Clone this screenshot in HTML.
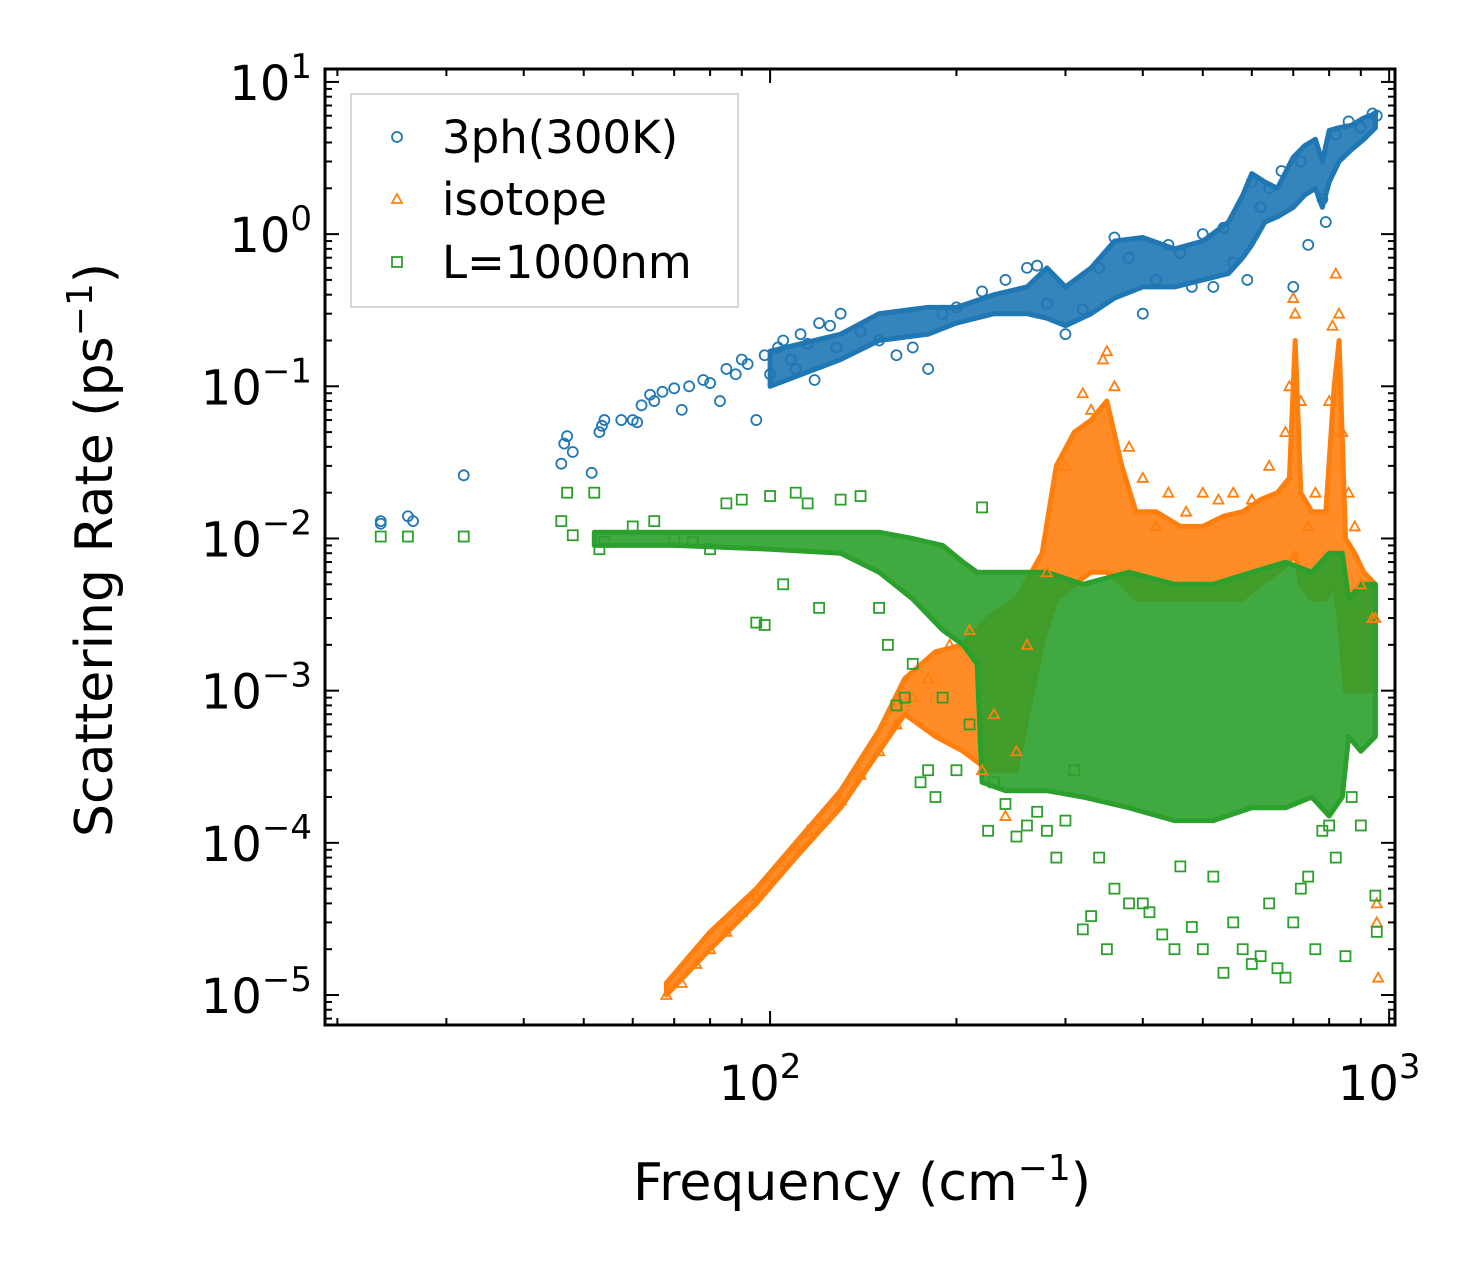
<!DOCTYPE html>
<html><head><meta charset="utf-8"><style>
body{margin:0;background:#fff;}
svg{display:block;font-family:"DejaVu Sans","Liberation Sans",sans-serif;}
</style></head><body>
<svg id="chart" width="1464" height="1275">
<g id="bands"></g>
<g id="pts"></g>
<g id="axes"></g>
<text x="862" y="1200" font-size="52" text-anchor="middle">Frequency (cm<tspan dy="-20" font-size="36">−1</tspan><tspan dy="20">)</tspan></text>
<text transform="translate(112,550) rotate(-90)" font-size="52" text-anchor="middle">Scattering Rate (ps<tspan dy="-20" font-size="36">−1</tspan><tspan dy="20">)</tspan></text>
<g>
<rect x="351" y="94" width="387" height="213" fill="#fff" fill-opacity="0.8" stroke="#ccc" stroke-width="1.5"/>
<circle cx="397" cy="137" r="5" fill="none" stroke="#1f77b4" stroke-width="1.8"/>
<text x="442" y="153" font-size="45">3ph(300K)</text>
<path d="M397,194 L402,203 L392,203 Z" fill="none" stroke="#ff7f0e" stroke-width="1.8"/>
<text x="442" y="215" font-size="45">isotope</text>
<rect x="392" y="257" width="10" height="10" fill="none" stroke="#2ca02c" stroke-width="1.8"/>
<text x="442" y="278" font-size="45">L=1000nm</text>
</g>
</svg>
<script>
// ---- data ----
const bandBlueF  =[100,130,150,180,200,230,260,280,300,330,360,400,450,500,550,580,600,630,660,700,730,760,780,800,830,870,910,950];
const bandBlueLo =[0.10,0.15,0.2,0.22,0.26,0.3,0.3,0.28,0.25,0.3,0.38,0.45,0.45,0.5,0.55,0.7,0.85,1.2,1.3,1.5,1.8,2.0,1.5,2.2,3.0,3.6,4.2,5.0];
const bandBlueHi =[0.17,0.22,0.3,0.33,0.33,0.4,0.45,0.6,0.45,0.6,0.9,0.95,0.8,0.9,1.2,1.8,2.5,2.2,2.0,3.2,3.8,4.2,3.0,4.8,5.0,5.2,5.8,6.2];
const bandOrF  =[68,80,95,110,130,150,165,185,205,225,250,275,290,310,330,350,370,390,420,460,500,540,580,620,660,690,705,720,750,790,815,830,850,880,910,950];
const bandOrLo =[1e-5,2e-5,4e-5,8e-5,1.7e-4,4e-4,7e-4,5e-4,4e-4,3e-4,3e-4,2e-3,4e-3,5e-3,6e-3,6e-3,5e-3,4e-3,4e-3,4e-3,4e-3,4e-3,4e-3,5e-3,6e-3,7e-3,8e-3,5e-3,4e-3,4e-3,5e-3,3e-3,1e-3,1e-3,1e-3,1e-3];
const bandOrHi =[1.2e-5,2.6e-5,5e-5,1e-4,2.2e-4,5.5e-4,1.2e-3,1.8e-3,2e-3,3e-3,4e-3,8e-3,3e-2,5e-2,6e-2,8e-2,3e-2,1.5e-2,1.5e-2,1.2e-2,1.2e-2,1.4e-2,1.5e-2,1.8e-2,2e-2,2.5e-2,2e-1,2e-2,1.5e-2,1.5e-2,1e-1,2e-1,1e-2,8e-3,6e-3,5e-3];
const bandGrF  =[52,70,100,130,150,170,190,205,216,220,240,280,320,380,450,520,600,680,750,800,840,860,900,950];
const bandGrLo =[9e-3,9e-3,8.5e-3,8e-3,6e-3,4e-3,2.5e-3,2e-3,1.5e-3,2.5e-4,2.2e-4,2.2e-4,2e-4,1.7e-4,1.4e-4,1.4e-4,1.7e-4,1.7e-4,2e-4,1.5e-4,2e-4,5e-4,4e-4,5e-4];
const bandGrHi =[1.1e-2,1.1e-2,1.1e-2,1.1e-2,1.1e-2,1e-2,9e-3,7e-3,6e-3,6e-3,6e-3,6e-3,5e-3,6e-3,5e-3,5e-3,6e-3,7e-3,6e-3,8e-3,8e-3,4e-3,5e-3,5e-3];
const blueF=[23.5,23.5,26,26.5,32,46,46.5,47,48,51.5,53,53.5,54,57.5,60,61,62,64,65,67,70,72,74,78,80,83,85,88,90,92,95,98,100,103,105,108,110,112,115,118,120,125,128,130,140,150,160,170,180,190,200,220,240,260,270,280,300,320,340,360,380,400,420,440,460,480,500,520,540,560,590,600,620,640,670,700,720,740,780,790,820,860,900,940,955];
const blueV=[0.013,0.0125,0.014,0.013,0.026,0.031,0.042,0.047,0.037,0.027,0.05,0.055,0.06,0.06,0.06,0.058,0.075,0.088,0.08,0.092,0.097,0.07,0.1,0.11,0.105,0.08,0.13,0.12,0.15,0.14,0.06,0.16,0.12,0.18,0.2,0.15,0.13,0.22,0.19,0.11,0.26,0.25,0.18,0.3,0.23,0.2,0.16,0.18,0.13,0.3,0.33,0.42,0.5,0.6,0.62,0.35,0.22,0.32,0.6,0.95,0.7,0.3,0.5,0.85,0.75,0.45,1.0,0.45,1.1,0.65,0.5,2.2,1.5,2.0,2.6,0.45,3.0,0.85,1.7,1.2,4.5,5.5,5.0,6.2,6.0];
const orF=[68,72,76,80,85,90,95,100,105,110,115,120,130,140,150,160,170,180,195,210,220,230,240,250,260,280,300,320,330,345,350,360,380,400,420,440,470,500,530,560,600,640,680,690,700,705,720,740,760,800,810,820,830,840,860,880,900,940,950,955,955,960];
const orV=[1e-5,1.2e-5,1.6e-5,2e-5,2.6e-5,3.5e-5,4.5e-5,6e-5,7.5e-5,9.5e-5,1.2e-4,1.4e-4,1.9e-4,2.8e-4,4e-4,6e-4,9e-4,1.2e-3,2e-3,2.5e-3,3e-4,7e-4,1.5e-4,4e-4,2e-3,6e-3,0.03,0.09,0.07,0.15,0.17,0.1,0.04,0.025,0.012,0.02,0.015,0.02,0.018,0.02,0.018,0.03,0.05,0.1,0.38,0.3,0.08,0.012,0.02,0.08,0.25,0.55,0.3,0.05,0.02,0.012,0.005,0.003,3e-3,4e-5,3e-5,1.3e-5];
const grF=[23.5,26,32,46,47,48,52,53,54,60,65,70,75,80,85,90,95,98,100,105,110,115,120,130,140,150,155,160,165,170,175,180,185,190,200,210,220,225,230,240,250,260,270,280,290,300,310,320,330,340,350,360,380,400,410,430,450,460,480,500,520,540,560,580,600,620,640,660,680,700,720,740,760,780,800,820,850,870,900,950,955];
const grV=[0.0103,0.0103,0.0103,0.013,0.02,0.0105,0.02,0.0085,0.0095,0.012,0.013,0.01,0.0095,0.0085,0.017,0.018,0.0028,0.0027,0.019,0.005,0.02,0.017,0.0035,0.018,0.019,0.0035,0.002,0.0008,0.0009,0.0015,0.00025,0.0003,0.0002,0.0009,0.0003,0.0006,0.016,0.00012,0.00025,0.00018,0.00011,0.00013,0.00016,0.00012,8e-5,0.00014,0.0003,2.7e-5,3.3e-5,8e-5,2e-5,5e-5,4e-5,4e-5,3.5e-5,2.5e-5,2e-5,7e-5,2.8e-5,2e-5,6e-5,1.4e-5,3e-5,2e-5,1.6e-5,1.8e-5,4e-5,1.5e-5,1.3e-5,3e-5,5e-5,6e-5,2e-5,1.2e-4,0.00013,8e-5,1.8e-5,0.0002,0.00013,4.5e-5,2.6e-5];
// ---- axes ----
const L=325,R=1395,T=69,B=1025;
const X0=Math.log10(19.1),X1=Math.log10(1022);
const Y0=-5.197,Y1=1.085;
const sx=v=>L+(Math.log10(v)-X0)/(X1-X0)*(R-L);
const sy=v=>B-(Math.log10(v)-Y0)/(Y1-Y0)*(B-T);
const NS='http://www.w3.org/2000/svg';
function mk(tag,attrs,parent){const e=document.createElementNS(NS,tag);for(const k in attrs)e.setAttribute(k,attrs[k]);parent.appendChild(e);return e;}
const bands=document.getElementById('bands'),pts=document.getElementById('pts'),axes=document.getElementById('axes');
function band(F,Lo,Hi,col,name){
  let d='M'+F.map((f,i)=>sx(f).toFixed(1)+','+sy(Hi[i]).toFixed(1)).join('L');
  for(let i=F.length-1;i>=0;i--)d+='L'+sx(F[i]).toFixed(1)+','+sy(Lo[i]).toFixed(1);
  const p=mk('path',{d:d+'Z',fill:col,'fill-opacity':0.9,stroke:col,'stroke-width':5,'stroke-linejoin':'round'},bands);
  
  
}
band(bandBlueF,bandBlueLo,bandBlueHi,'#1f77b4','band-3ph');
band(bandOrF,bandOrLo,bandOrHi,'#ff7f0e','band-isotope');
band(bandGrF,bandGrLo,bandGrHi,'#2ca02c','band-boundary');
blueF.forEach((f,i)=>{const c=mk('circle',{cx:sx(f),cy:sy(blueV[i]),r:5,fill:'none',stroke:'#1f77b4','stroke-width':1.8},pts);
  
  });
orF.forEach((f,i)=>{const x=sx(f),y=sy(orV[i]);const c=mk('path',{d:`M${x},${y-5}L${x+5},${y+4}L${x-5},${y+4}Z`,fill:'none',stroke:'#ff7f0e','stroke-width':1.8},pts);
  
  });
grF.forEach((f,i)=>{const c=mk('rect',{x:sx(f)-5,y:sy(grV[i])-5,width:10,height:10,fill:'none',stroke:'#2ca02c','stroke-width':1.8},pts);
  
  });
// frame
mk('rect',{x:L,y:T,width:R-L,height:B-T,fill:'none',stroke:'#000','stroke-width':3},axes);
// x ticks
for(let d=1;d<=3;d++)for(let m=1;m<10;m++){const v=m*Math.pow(10,d);const x=sx(v);if(x<L||x>R)continue;const len=m===1?14:7;
  mk('line',{x1:x,y1:B,x2:x,y2:B-len,stroke:'#000','stroke-width':2},axes);
  mk('line',{x1:x,y1:T,x2:x,y2:T+len,stroke:'#000','stroke-width':2},axes);
  if(m===1){const t=mk('text',{x:x-10,y:B+75,'font-size':48,'text-anchor':'middle'},axes);t.innerHTML='10<tspan dy="-22" font-size="34">'+d+'</tspan>';
    
    }}
// y ticks
for(let d=-6;d<=1;d++)for(let m=1;m<10;m++){const v=m*Math.pow(10,d);const y=sy(v);if(y<T||y>B)continue;const len=m===1?14:7;
  mk('line',{x1:L,y1:y,x2:L+len,y2:y,stroke:'#000','stroke-width':2},axes);
  mk('line',{x1:R,y1:y,x2:R-len,y2:y,stroke:'#000','stroke-width':2},axes);
  if(m===1){const t=mk('text',{x:312,y:y+18,'font-size':48,'text-anchor':'end'},axes);t.innerHTML='10<tspan dy="-22" font-size="34">'+(d<0?'−'+(-d):d)+'</tspan>';
    
    }}
</script>
</body></html>
